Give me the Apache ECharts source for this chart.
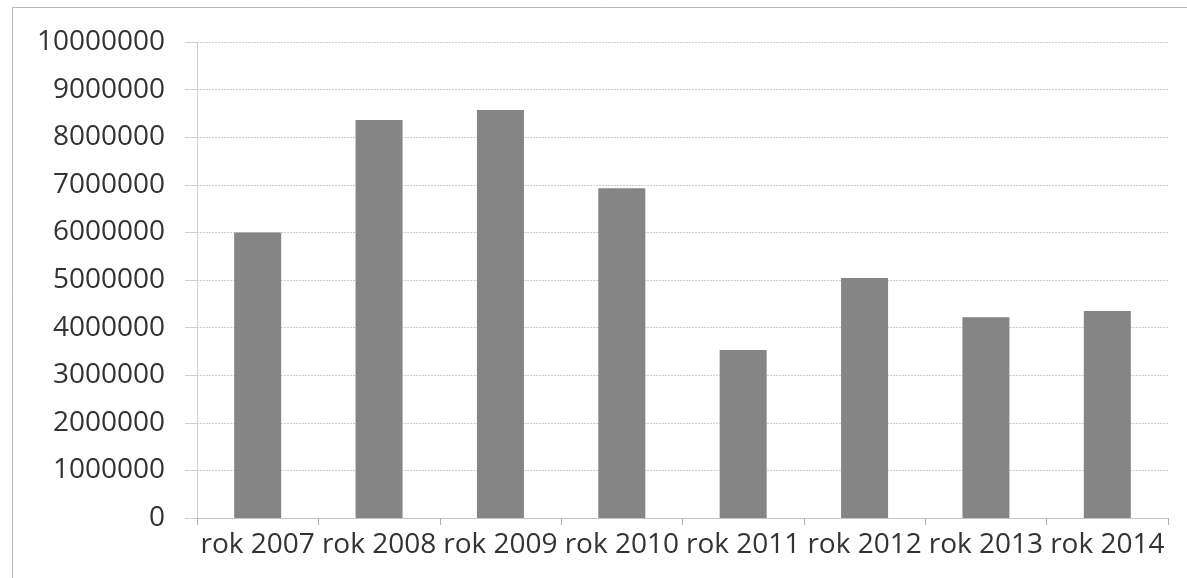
<!DOCTYPE html>
<html>
<head>
<meta charset="utf-8">
<script src="https://cdn.jsdelivr.net/npm/echarts@6/dist/echarts.min.js"></script>
<style>
    html, body { margin: 0; padding: 0; background: #fff; }
    #chart { width: 1187px; height: 578px; }
</style>
</head>
<body>
<div id="chart"></div>
<script>
const years = ['rok 2007', 'rok 2008', 'rok 2009', 'rok 2010', 'rok 2011', 'rok 2012', 'rok 2013', 'rok 2014'];
const values = [6000000, 8360000, 8570000, 6930000, 3530000, 5040000, 4220000, 4350000];

const fontFamily = '"Open Sans", sans-serif';

let chart = echarts.init(document.getElementById('chart'));

let option = {
    animation: false,
    backgroundColor: '#fff',
    graphic: [
        {
            type: 'rect',
            shape: { x: 12.5, y: 7.5, width: 1400, height: 800 },
            style: { fill: 'none', stroke: '#b8b8b8', lineWidth: 1 },
            silent: true
        }
    ],
    grid: {
        left: 197,
        right: 19,
        top: 42,
        bottom: 60
    },
    xAxis: {
        type: 'category',
        data: years,
        axisLine: { lineStyle: { color: '#c4c4c4' } },
        axisTick: { show: true, length: 7, lineStyle: { color: '#b0b0b0' } },
        axisLabel: {
            color: '#333',
            fontFamily: fontFamily,
            fontSize: 28,
            margin: 13,
            interval: 0
        }
    },
    yAxis: {
        type: 'value',
        min: 0,
        max: 10000000,
        interval: 1000000,
        axisLine: { show: true, lineStyle: { color: '#d0d0d0' } },
        axisTick: { show: true, length: 12, lineStyle: { color: '#d0d0d0' } },
        splitLine: { lineStyle: { color: '#cfcfcf', type: [2, 1] } },
        axisLabel: {
            color: '#333',
            fontFamily: fontFamily,
            fontSize: 28,
            margin: 32,
            formatter: v => String(v)
        }
    },
    series: [
        {
            type: 'bar',
            data: values,
            barWidth: 47,
            itemStyle: { color: '#858585' }
        }
    ]
};

chart.setOption(option);
</script>
</body>
</html>
